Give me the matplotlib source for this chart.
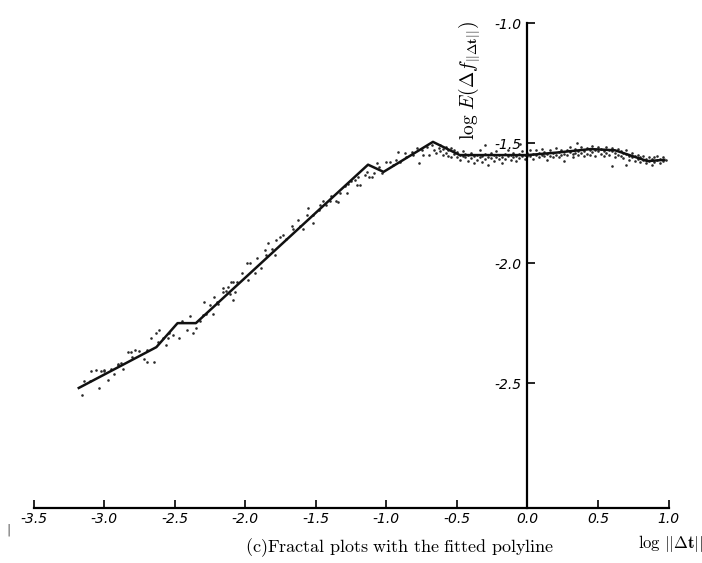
import numpy as np
import matplotlib
matplotlib.use("Agg")
import matplotlib.pyplot as plt

plt.rcParams['mathtext.fontset'] = 'cm'

# fitted polyline (log||dt||, log E)
poly_x = [-3.18, -2.63, -2.48, -2.35, -1.13, -1.02, -0.67, -0.48, 0.0, 0.20, 0.45, 0.62, 0.85, 0.97]
poly_y = [-2.52, -2.35, -2.25, -2.25, -1.59, -1.62, -1.495, -1.55, -1.55, -1.54, -1.525, -1.53, -1.575, -1.57]

# fractal plot points, lower part
low_x = [-3.16, -3.14, -3.09, -3.06, -3.04, -3.02, -3.00, -2.97, -2.95, -2.93, -2.90, -2.88,
         -2.87, -2.83, -2.81, -2.78, -2.75, -2.72, -2.70, -2.65, -2.67, -2.63, -2.61, -2.62,
         -2.56, -2.55, -2.54, -2.51, -2.47, -2.41, -2.39, -2.37, -2.35, -2.32, -2.29, -2.275,
         -2.25, -2.23, -2.22, -2.19, -2.16, -2.16, -2.14, -2.12, -2.11, -2.09, -2.10, -2.06,
         -3.10, -3.00, -2.90, -2.80, -2.70, -2.58, -2.45, -2.30, -2.20]
low_y = [-2.55, -2.49, -2.45, -2.446, -2.52, -2.45, -2.446, -2.485, -2.44, -2.46, -2.425, -2.415,
         -2.44, -2.37, -2.37, -2.36, -2.365, -2.40, -2.41, -2.41, -2.31, -2.29, -2.28, -2.33,
         -2.34, -2.31, -2.29, -2.30, -2.31, -2.28, -2.22, -2.29, -2.27, -2.24, -2.16, -2.21,
         -2.175, -2.21, -2.14, -2.17, -2.105, -2.12, -2.115, -2.10, -2.13, -2.155, -2.08, -2.08,
         -2.49, -2.45, -2.42, -2.39, -2.36, -2.31, -2.24, -2.215, -2.16]

# middle part (rising slope and first peaks)
mid_x = [-2.07, -2.09, -2.02, -1.99, -1.97, -1.98, -1.93, -1.92, -1.89, -1.86, -1.855, -1.84,
         -1.81, -1.79, -1.78, -1.755, -1.73, -1.71, -1.67, -1.66, -1.625, -1.61, -1.59, -1.56,
         -1.555, -1.52, -1.52, -1.48, -1.47, -1.45, -1.425, -1.40, -1.39, -1.36, -1.34, -1.33,
         -1.295, -1.28, -1.27, -1.25, -1.22, -1.21, -1.20, -1.19, -1.15, -1.14, -1.12, -1.10,
         -1.09, -1.07, -1.05, -1.03, -1.00, -0.975, -0.95, -0.93, -0.92, -0.90, -0.87, -0.86,
         -0.82, -0.81, -0.785, -0.77, -0.75, -0.74, -0.715, -0.70, -0.68, -0.66, -0.645, -0.63]
mid_y = [-2.12, -2.08, -2.04, -2.00, -2.00, -2.07, -2.04, -1.98, -2.02, -1.946, -1.967, -1.918,
         -1.94, -1.967, -1.904, -1.89, -1.883, -1.90, -1.846, -1.86, -1.82, -1.846, -1.86, -1.80,
         -1.77, -1.80, -1.835, -1.78, -1.76, -1.74, -1.76, -1.74, -1.72, -1.74, -1.745, -1.71,
         -1.68, -1.71, -1.67, -1.66, -1.654, -1.675, -1.64, -1.675, -1.633, -1.62, -1.64, -1.64,
         -1.626, -1.585, -1.60, -1.626, -1.58, -1.58, -1.59, -1.57, -1.536, -1.58, -1.543, -1.56,
         -1.536, -1.55, -1.52, -1.585, -1.53, -1.55, -1.515, -1.55, -1.51, -1.53, -1.543, -1.52]

# flat part (right of the last peak)
flat_x = [-0.62, -0.62, -0.60, -0.60, -0.58, -0.58, -0.56, -0.56, -0.54, -0.54, -0.52, -0.52,
          -0.50, -0.50, -0.48, -0.48, -0.46, -0.46, -0.44, -0.44, -0.42, -0.42, -0.40, -0.40,
          -0.38, -0.38, -0.36, -0.36, -0.34, -0.34, -0.32, -0.32, -0.30, -0.30, -0.28, -0.28,
          -0.26, -0.26, -0.24, -0.24, -0.22, -0.22, -0.20, -0.20, -0.18, -0.18, -0.16, -0.16,
          -0.14, -0.14, -0.12, -0.12, -0.10, -0.10, -0.08, -0.08, -0.06, -0.06, -0.04, -0.04,
          -0.02, -0.02, 0.00, 0.00, 0.02, 0.02, 0.04, 0.04, 0.06, 0.06, 0.08, 0.08,
          0.10, 0.10, 0.12, 0.12, 0.14, 0.14, 0.16, 0.16, 0.18, 0.18, 0.20, 0.20,
          0.22, 0.22, 0.24, 0.24, 0.26, 0.26, 0.28, 0.28, 0.30, 0.30, 0.32, 0.32,
          0.34, 0.34, 0.36, 0.36, 0.38, 0.38, 0.40, 0.40, 0.42, 0.42, 0.44, 0.44,
          0.46, 0.46, 0.48, 0.48, 0.50, 0.50, 0.52, 0.52, 0.54, 0.54, 0.56, 0.56,
          0.58, 0.58, 0.60, 0.60, 0.62, 0.62, 0.64, 0.64, 0.66, 0.66, 0.68, 0.68,
          0.70, 0.70, 0.72, 0.72, 0.74, 0.74, 0.76, 0.76, 0.78, 0.78, 0.80, 0.80,
          0.82, 0.82, 0.84, 0.84, 0.86, 0.86, 0.88, 0.88, 0.90, 0.90, 0.92, 0.92,
          0.94, 0.94, 0.96, 0.96, 0.98, -0.05, 0.35, 0.60, 0.70, -0.30]
flat_y = [-1.508, -1.535, -1.525, -1.548, -1.515, -1.540, -1.530, -1.552, -1.522, -1.560, -1.545, -1.530,
          -1.556, -1.538, -1.548, -1.570, -1.552, -1.535, -1.560, -1.545, -1.575, -1.550, -1.540, -1.562,
          -1.585, -1.555, -1.548, -1.570, -1.560, -1.530, -1.578, -1.552, -1.545, -1.566, -1.590, -1.556,
          -1.540, -1.562, -1.575, -1.550, -1.535, -1.558, -1.568, -1.548, -1.582, -1.556, -1.545, -1.565,
          -1.552, -1.530, -1.570, -1.548, -1.558, -1.540, -1.575, -1.552, -1.545, -1.562, -1.555, -1.535,
          -1.568, -1.548, -1.555, -1.540, -1.530, -1.552, -1.545, -1.565, -1.528, -1.550, -1.540, -1.560,
          -1.548, -1.525, -1.555, -1.538, -1.545, -1.572, -1.530, -1.552, -1.540, -1.560, -1.520, -1.548,
          -1.538, -1.558, -1.530, -1.550, -1.545, -1.575, -1.528, -1.548, -1.538, -1.515, -1.545, -1.560,
          -1.525, -1.540, -1.532, -1.550, -1.518, -1.542, -1.535, -1.555, -1.520, -1.545, -1.530, -1.548,
          -1.512, -1.538, -1.528, -1.552, -1.535, -1.518, -1.545, -1.525, -1.532, -1.555, -1.515, -1.540,
          -1.528, -1.548, -1.535, -1.520, -1.540, -1.558, -1.525, -1.548, -1.535, -1.555, -1.540, -1.562,
          -1.545, -1.528, -1.552, -1.570, -1.540, -1.560, -1.555, -1.575, -1.548, -1.565, -1.560, -1.580,
          -1.552, -1.572, -1.565, -1.585, -1.558, -1.575, -1.568, -1.590, -1.560, -1.580, -1.572, -1.552,
          -1.565, -1.585, -1.575, -1.558, -1.570, -1.505, -1.500, -1.595, -1.590, -1.510]

x_ticks = [-3.5, -3.0, -2.5, -2.0, -1.5, -1.0, -0.5, 0.0, 0.5, 1.0]
y_ticks = [-2.5, -2.0, -1.5, -1.0]

fig = plt.figure(figsize=(7.02, 5.63), dpi=100)
ax = fig.add_axes([0.0479, 0.0977, 0.9045, 0.8614])

pts_x = low_x + mid_x + flat_x
pts_y = low_y + mid_y + flat_y
ax.scatter(pts_x, pts_y, s=3.5, color='#2a2a2a', marker='o', linewidths=0, zorder=2)
ax.plot(poly_x, poly_y, color='#111111', lw=1.8, zorder=3)

ax.set_xlim(-3.5, 1.0)
ax.set_ylim(-3.02, -1.0)

ax.spines['top'].set_visible(False)
ax.spines['right'].set_visible(False)
ax.spines['left'].set_position(('data', 0))
ax.spines['left'].set_bounds(-3.02, -1.0)
ax.spines['left'].set_linewidth(1.6)
ax.spines['bottom'].set_linewidth(1.6)

ax.set_xticks(x_ticks)
ax.set_xticklabels([f"{v:.1f}" for v in x_ticks])
ax.set_yticks(y_ticks)
ax.set_yticklabels([f"{v:.1f}" for v in y_ticks])
ax.tick_params(axis='x', direction='in', length=6, width=1.2, pad=3)
ax.tick_params(axis='y', direction='in', length=6, width=1.2, pad=4)
for lab in ax.get_xticklabels() + ax.get_yticklabels():
    lab.set_fontstyle('italic')
    lab.set_fontsize(10)
    lab.set_fontfamily('DejaVu Sans')

ax.text(-0.41, -1.24, r"$\log\,E(\Delta f_{||\Delta\mathbf{t}||})$", rotation=90,
        ha='center', va='center', fontsize=14)

fig.text(0.57, 0.028, r"$\mathrm{(c)Fractal\ plots\ with\ the\ fitted\ polyline}$",
         ha='center', va='center', fontsize=13)
fig.text(0.955, 0.035, r"$\log\,||\Delta\mathbf{t}||$", ha='center', va='center', fontsize=12)
fig.text(0.012, 0.058, "|", ha='center', va='center', fontsize=9, color='#555555')

fig.savefig("out.png", dpi=100)
